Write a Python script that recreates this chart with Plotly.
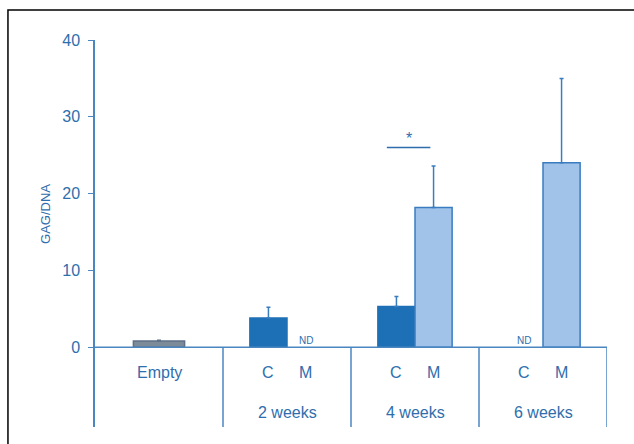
import plotly.graph_objects as go

# Groups and their bars (x positions are group index + offset within the group)
groups = ["Empty", "2 weeks", "4 weeks", "6 weeks"]
empty_value = [0.8]
empty_err = [0.1]
c_values = [3.8, 5.3]          # C bars at 2 and 4 weeks (6 weeks: ND)
c_errors = [1.4, 1.3]
c_groups = [1, 2]
m_values = [18.2, 24.0]        # M bars at 4 and 6 weeks (2 weeks: ND)
m_errors = [5.4, 11.0]
m_groups = [2, 3]
nd_points = [(1, "M"), (3, "C")]
yticks = [0, 10, 20, 30, 40]

BLUE_TXT = "#2f6ead"
AXIS = "#4a86c0"
C_FILL = "#1e70b6"
M_FILL = "#a2c3e9"
M_LINE = "#3a7cc0"
E_FILL = "#7d8b99"
E_LINE = "#5d7088"
FONT = "Liberation Sans, Arial, sans-serif"

OFF = {"C": 0.355, "M": 0.645}
BW = 0.29


def up_only(errs):
    return dict(type="data", symmetric=False, array=errs, arrayminus=[0] * len(errs))


fig = go.Figure()
fig.add_bar(x=[0.5], y=empty_value, width=0.4,
            marker=dict(color=E_FILL, line=dict(color=E_LINE, width=1.5)),
            error_y=dict(**up_only(empty_err), color=E_LINE, thickness=1.5, width=2))
fig.add_bar(x=[g + OFF["C"] for g in c_groups], y=c_values, width=BW,
            marker=dict(color=C_FILL, line=dict(color=C_FILL, width=1.5)),
            error_y=dict(**up_only(c_errors), color=M_LINE, thickness=1.5, width=2))
fig.add_bar(x=[g + OFF["M"] for g in m_groups], y=m_values, width=BW,
            marker=dict(color=M_FILL, line=dict(color=M_LINE, width=1.5)),
            error_y=dict(**up_only(m_errors), color=M_LINE, thickness=1.5, width=2))

YMIN = -10.4
shapes = [
    dict(type="line", x0=0, x1=4, y0=0, y1=0, xref="x", yref="y",
         line=dict(color=AXIS, width=1.5)),
]
for g in [1, 2, 3, 4]:
    shapes.append(dict(type="line", x0=g, x1=g, y0=YMIN, y1=0, xref="x", yref="y",
                       line=dict(color=AXIS, width=1.5)))
# significance bar over 4 weeks
shapes.append(dict(type="line", x0=2.28, x1=2.62, y0=26.0, y1=26.0, xref="x", yref="y",
                   line=dict(color=BLUE_TXT, width=1.5)))
# outer frame
shapes.append(dict(type="rect", x0=-0.17, x1=1.2, y0=-0.2, y1=1.0775,
                   xref="paper", yref="paper", line=dict(color="black", width=1.5)))

annotations = [
    dict(x=0.5, y=-3.3, text="Empty", showarrow=False, xref="x", yref="y",
         font=dict(size=16, color=BLUE_TXT, family=FONT)),
    dict(x=2.45, y=27.2, text="*", showarrow=False, xref="x", yref="y",
         font=dict(size=16, color=BLUE_TXT, family=FONT)),
]
for g in [1, 2, 3]:
    for lab in ["C", "M"]:
        annotations.append(dict(x=g + OFF[lab], y=-3.3, text=lab, showarrow=False,
                                xref="x", yref="y",
                                font=dict(size=16, color=BLUE_TXT, family=FONT)))
    annotations.append(dict(x=g + 0.5, y=-8.5, text=groups[g], showarrow=False,
                            xref="x", yref="y",
                            font=dict(size=16, color=BLUE_TXT, family=FONT)))
for g, lab in nd_points:
    annotations.append(dict(x=g + OFF[lab], y=0, text="ND", showarrow=False,
                            xref="x", yref="y", yanchor="bottom", yshift=-1,
                            font=dict(size=10, color=BLUE_TXT, family=FONT)))
annotations.append(dict(x=-0.098, y=0.55, xref="paper", yref="paper", text="GAG/DNA",
                        textangle=-90, showarrow=False, xanchor="center",
                        font=dict(size=13, color=BLUE_TXT, family=FONT)))

fig.update_layout(
    width=634, height=444,
    margin=dict(l=95, r=27, t=40, b=17),
    paper_bgcolor="white", plot_bgcolor="white",
    showlegend=False, barmode="overlay",
    shapes=shapes, annotations=annotations,
    xaxis=dict(range=[0, 4], visible=False, fixedrange=True),
    yaxis=dict(range=[YMIN, 40], tickvals=yticks, ticks="outside", ticklen=5,
               tickcolor=AXIS, showline=True, linecolor=AXIS, linewidth=1.5,
               showgrid=False, zeroline=False, ticklabelstandoff=5,
               tickfont=dict(size=16, color=BLUE_TXT, family=FONT)),
)

fig.write_html("out.html")
